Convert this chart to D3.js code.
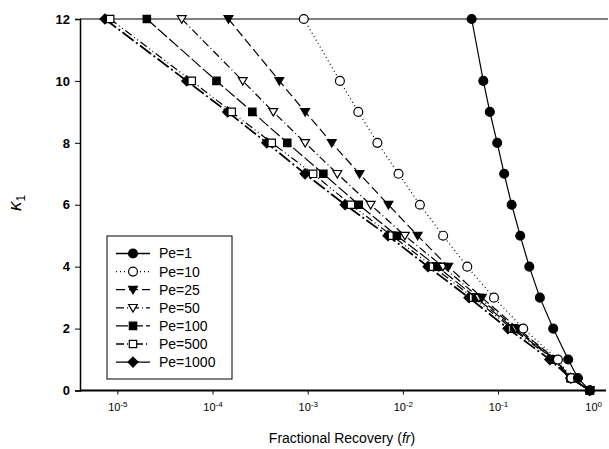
<!DOCTYPE html>
<html>
<head>
<meta charset="utf-8">
<script src="https://cdn.jsdelivr.net/npm/d3@7"></script>
<style>
  body { margin: 0; background: #fff; }
  text { font-family: "Liberation Sans", Arial, sans-serif; fill: #000; }
</style>
</head>
<body>
<script>
// K1 levels shared by every curve
var kLevels = [12, 10, 9, 8, 7, 6, 5, 4, 3, 2, 1, 0.4, 0];

// fractional recovery, one per K level
var pe1    = [0.0528, 0.070, 0.082, 0.098, 0.116, 0.139, 0.171, 0.213, 0.275, 0.380, 0.546, 0.69, 0.92];
var pe10   = [9.1e-4, 2.18e-3, 3.4e-3, 5.4e-3, 9.0e-3, 0.0151, 0.0265, 0.0475, 0.0906, 0.184, 0.426, 0.59, 0.92];
var pe25   = [1.47e-4, 5.03e-4, 9.4e-4, 1.79e-3, 3.5e-3, 7.05e-3, 0.0143, 0.030, 0.0677, 0.162, 0.405, 0.58, 0.92];
var pe50   = [4.75e-5, 2.08e-4, 4.35e-4, 9.4e-4, 2.05e-3, 4.59e-3, 0.0105, 0.0264, 0.063, 0.154, 0.396, 0.58, 0.92];
var pe100  = [2.04e-5, 1.1e-4, 2.62e-4, 6.1e-4, 1.46e-3, 3.44e-3, 8.65e-3, 0.0231, 0.0586, 0.147, 0.386, 0.58, 0.92];
var pe500  = [8.4e-6, 6.05e-5, 1.59e-4, 4.19e-4, 1.14e-3, 2.85e-3, 7.68e-3, 0.0207, 0.0546, 0.140, 0.38, 0.58, 0.92];
var pe1000 = [7.4e-6, 5.36e-5, 1.44e-4, 3.71e-4, 9.37e-4, 2.47e-3, 6.98e-3, 0.0184, 0.0495, 0.127, 0.35, 0.58, 0.92];

var seriesNames = ["Pe=1", "Pe=10", "Pe=25", "Pe=50", "Pe=100", "Pe=500", "Pe=1000"];
var yTicks = [0, 2, 4, 6, 8, 10, 12];
var xTicks = [-5, -4, -3, -2, -1, 0];

var series = [
  {name: seriesNames[0], vals: pe1,    sym: "circle",  fill: "#000", dash: null},
  {name: seriesNames[1], vals: pe10,   sym: "circle",  fill: "#fff", dash: "1,3"},
  {name: seriesNames[2], vals: pe25,   sym: "tri",     fill: "#000", dash: "9,4"},
  {name: seriesNames[3], vals: pe50,   sym: "tri",     fill: "#fff", dash: "8,3,1,3"},
  {name: seriesNames[4], vals: pe100,  sym: "square",  fill: "#000", dash: "12,3"},
  {name: seriesNames[5], vals: pe500,  sym: "square",  fill: "#fff", dash: "8,3,1,3,1,3"},
  {name: seriesNames[6], vals: pe1000, sym: "diamond", fill: "#000", dash: "14,3,2,3"}
];

var width = 609,
    height = 449,
    svg = d3.select("body")
    .append("svg")
    .attr("width", width)
    .attr("height", height);

var x = d3.scaleLog()
    .domain([4.05e-6, 1.43])
    .range([80, 608]);

var y = d3.scaleLinear()
    .domain([0, 12])
    .range([390.5, 19]);

function markerPath(d) {
  if (d.sym === "tri") return "M-4.4,-3.3L4.4,-3.3L0,4.2Z";
  if (d.sym === "square") return "M-3.7,-3.7H3.7V3.7H-3.7Z";
  if (d.sym === "diamond") return "M0,-5L5,0L0,5L-5,0Z";
  return d3.symbol().type(d3.symbolCircle).size(62)();
}

// axes
var yAxis = svg.append("g")
    .attr("transform", "translate(80,0)")
    .call(d3.axisLeft(y).tickValues(yTicks).tickSize(5).tickPadding(5));
yAxis.selectAll("text").attr("font-size", 13).attr("font-weight", "bold");
yAxis.select(".domain").attr("stroke-width", 1.5);

var xAxis = svg.append("g")
    .attr("transform", "translate(0,390.5)")
    .call(d3.axisBottom(x).tickValues(xTicks.map(function(e) { return Math.pow(10, e); }))
      .tickSize(4).tickFormat(""));
xAxis.select(".domain").attr("d", "M80,0H606").attr("stroke-width", 1.8);

xAxis.selectAll(".tick").each(function(d) {
  var e = Math.round(Math.log10(d));
  var t = d3.select(this).append("text")
      .attr("y", 20)
      .attr("text-anchor", "middle")
      .attr("font-size", 11);
  t.append("tspan").text("10");
  t.append("tspan").attr("dy", -4).attr("font-size", 8).text(e === 0 ? "0" : "-" + Math.abs(e));
});

// top line at K1 = 12
svg.append("line")
    .attr("x1", 80).attr("x2", 608)
    .attr("y1", y(12)).attr("y2", y(12))
    .attr("stroke", "#000").attr("stroke-width", 1.2);

// curves
var line = d3.line()
    .x(function(d) { return x(d[1]); })
    .y(function(d) { return y(d[0]); });

series.slice().reverse().forEach(function(s) {
  var pts = kLevels.map(function(k, i) { return [k, s.vals[i]]; });
  svg.append("path")
      .datum(pts)
      .attr("fill", "none")
      .attr("stroke", "#000")
      .attr("stroke-width", s.name === "Pe=1000" ? 1.8 : 1.2)
      .attr("stroke-dasharray", s.dash)
      .attr("d", line);
  svg.append("g").selectAll("path")
    .data(pts)
    .enter().append("path")
      .attr("transform", function(d) { return "translate(" + x(d[1]) + "," + y(d[0]) + ")"; })
      .attr("d", markerPath(s))
      .attr("fill", s.fill)
      .attr("stroke", "#000")
      .attr("stroke-width", 1.2);
});

// legend
var lg = svg.append("g").attr("transform", "translate(107,236)");
lg.append("rect")
    .attr("width", 125).attr("height", 143)
    .attr("fill", "#fff").attr("stroke", "#000").attr("stroke-width", 1);

var items = lg.selectAll(".item")
  .data(series)
  .enter().append("g")
    .attr("class", "item")
    .attr("transform", function(d, i) { return "translate(0," + (17.5 + i * 18.1) + ")"; });
items.append("line")
    .attr("x1", 9).attr("x2", 43)
    .attr("stroke", "#000").attr("stroke-width", 1.3)
    .attr("stroke-dasharray", function(d) { return d.dash; });
items.append("path")
    .attr("transform", "translate(26,0)")
    .attr("d", function(d) { return markerPath(d); })
    .attr("fill", function(d) { return d.fill; })
    .attr("stroke", "#000").attr("stroke-width", 1.2);
items.append("text")
    .attr("x", 52).attr("dy", "0.35em")
    .attr("font-size", 14)
    .text(function(d) { return d.name; });

// axis titles
var xt = svg.append("text")
    .attr("x", 342).attr("y", 443)
    .attr("text-anchor", "middle")
    .attr("font-size", 14);
xt.append("tspan").text("Fractional Recovery (");
xt.append("tspan").attr("font-style", "italic").text("fr");
xt.append("tspan").text(")");

var yt = svg.append("text")
    .attr("transform", "translate(21,203) rotate(-90)")
    .attr("text-anchor", "middle")
    .attr("font-size", 19);
yt.append("tspan").attr("font-style", "italic").text("κ");
yt.append("tspan").attr("dy", 4).attr("font-size", 12).text("1");
</script>
</body>
</html>
